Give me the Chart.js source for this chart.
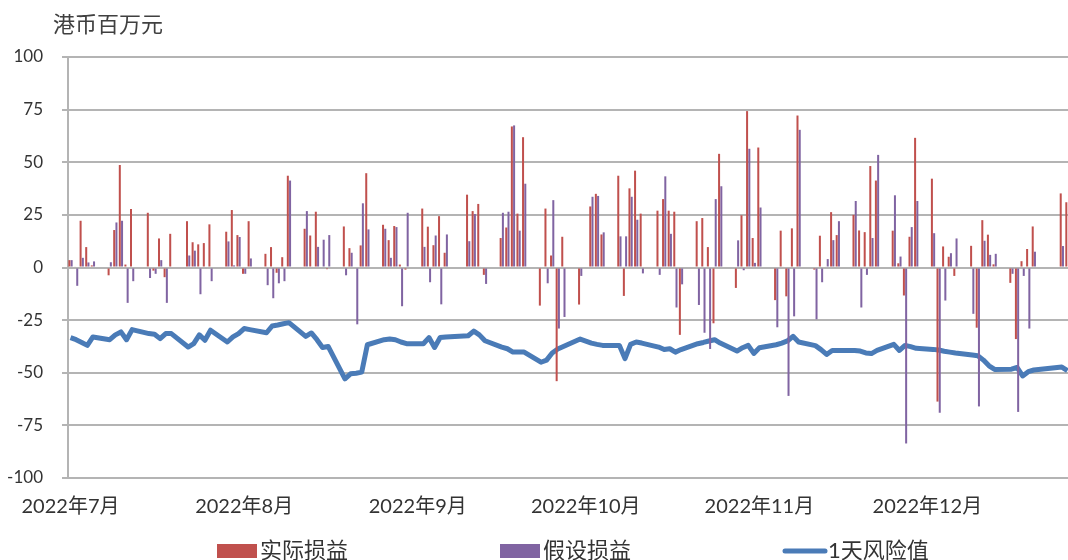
<!DOCTYPE html>
<html lang="zh-CN">
<head>
<meta charset="utf-8">
<title>实际损益、假设损益与1天风险值</title>
<script src="https://cdn.jsdelivr.net/npm/chart.js@4.4.0/dist/chart.umd.min.js"></script>
<style>
  html, body { margin: 0; padding: 0; background: #fff; }
  #wrap { width: 1068px; height: 560px; position: relative; }
</style>
</head>
<body>
<div id="wrap"><canvas id="chart"></canvas></div>
<script>
// ========== DATA ==========
// trading days, 2022 (MM-DD)
const tradeDates = [
  "07-04", "07-05", "07-06", "07-07", "07-08", "07-11", "07-12", "07-13", "07-14", "07-15",
  "07-18", "07-19", "07-20", "07-21", "07-22", "07-25", "07-26", "07-27", "07-28", "07-29",
  "08-01", "08-02", "08-03", "08-04", "08-05", "08-08", "08-09", "08-10", "08-11", "08-12",
  "08-15", "08-16", "08-17", "08-18", "08-19", "08-22", "08-23", "08-24", "08-25", "08-26",
  "08-29", "08-30", "08-31",
  "09-01", "09-02", "09-05", "09-06", "09-07", "09-08", "09-09", "09-13", "09-14", "09-15",
  "09-16", "09-19", "09-20", "09-21", "09-22", "09-23", "09-26", "09-27", "09-28", "09-29",
  "09-30",
  "10-03", "10-05", "10-06", "10-07", "10-10", "10-11", "10-12", "10-13", "10-14", "10-17",
  "10-18", "10-19", "10-20", "10-21", "10-24", "10-25", "10-26", "10-27", "10-28", "10-31",
  "11-01", "11-02", "11-03", "11-04", "11-07", "11-08", "11-09", "11-10", "11-11", "11-14",
  "11-15", "11-16", "11-17", "11-18", "11-21", "11-22", "11-23", "11-24", "11-25", "11-28",
  "11-29", "11-30",
  "12-01", "12-02", "12-05", "12-06", "12-07", "12-08", "12-09", "12-12", "12-13", "12-14",
  "12-15", "12-16", "12-19", "12-20", "12-21", "12-22", "12-23", "12-28", "12-29",
];

// 实际损益
const actualPL = [
  3.5, 0.5, 22.2, 9.7, 1, -3.7, 17.8, 48.7, 1.4, 27.8,
  26, -1.5, 13.8, -4.6, 16, 22, 12, 11, 11.6, 20.5,
  17, 27.3, 15.4, -3, 22, 6.5, 9.7, -2.5, 4.9, 43.6,
  18.4, 15.2, 26.5, 0, -0.8, 19.5, 9.2, 0, 10.5, 44.8,
  20.3, 13, 19.7,
  1.4, -1, 28, 19.4, 10.6, 24.4, 7, 34.6, 26.8, 30.2,
  -3.5, 14, 19, 67, 25.6, 61.9, -18.1, 28, 5.7, -54,
  14.6,
  -17.6, 29, 35, 15.7, 43.6, -13.5, 37.6, 46, 25.6, 27,
  32.5, 27, 26.5, -32, 22, 23.5, 9.7, -26.5, 54, -9.7,
  24.8, 74.3, 14, 57, -15.5, 17.5, -13.7, 18.6, 72.2, -1,
  15.1, 0.5, 26.3, 15.4, 25, 17.6, 16.8, 48.2, 41.3, 17.5,
  2, -13.3,
  14.6, 61.6, 42.2, -63.7, 10, 5.1, -4, 10.3, -28.6, 22.5,
  15.6, 1.5, -7.3, -34, 3, 8.8, 19.5, 35.2, 31,
];

// 假设损益
const hypoPL = [
  3.5, -8.7, 4.6, 2.4, 2.9, 2.5, 21.4, 22.2, -16.8, -6.5,
  -5, -3, 3.5, -16.8, 0, 5.7, 8, -12.7, -0.5, -6.5,
  12.4, 1, 14.5, -3, 4.3, -8.4, -14.6, -7.5, -6.5, 41.3,
  26.8, 0.5, 9.8, 13.2, 15.4, -3.7, 7, -27, 30.5, 18.1,
  18.4, 4.6, 19.2,
  -18.4, 26, 9.8, -7, 15.2, -17.5, 15.7, 12.5, 25.4, 0.5,
  -7.8, 26, 26.5, 67.5, 17.5, 39.8, 0, -7.5, 32, -29,
  -23.5,
  -4, 33.6, 34, 16.7, 14.8, 14.8, 33.6, 22.7, -2.8, -3.5,
  43.3, 16, -19, -8, -17.8, -31, -38.7, 32.5, 38.6, 12.9,
  -1.3, 56.4, 2.2, 28.5, -28.4, 0.5, -61, -23.2, 65.4, -24.6,
  -7, 4, 13, 22, 31.6, -19, -3.5, 14, 53.5, 34.3,
  5.2, -83.6,
  19.2, 31.6, 16.3, -69, -15.7, 6.8, 13.8, -22, -66, 12.7,
  6, 6.5, -3, -68.6, -4, -29, 7.5, 10.2, null,
];

// 1天风险值
const var1d = [
  -33.3, -34.3, -35.6, -37, -33, -34.3, -32, -30.6, -34.3, -29.5,
  -31.4, -31.7, -33.8, -31.4, -31.4, -37.8, -36.2, -32, -34.6, -29.8,
  -35.4, -33, -31.4, -29, -29.5, -31, -27.8, -27.3, -26.7, -26.2,
  -32.7, -31.1, -34.3, -38, -37.5, -52.9, -50.5, -50.2, -49.7, -36.7,
  -34.3, -34, -34.3,
  -35.4, -36.2, -36.2, -33.3, -38, -33.3, -33, -32.4, -30.2, -32,
  -34.8, -37.8, -38.6, -40.2, -40.2, -40.2, -45, -44, -40.6, -38.7,
  -37.5,
  -34, -35.9, -36.5, -37, -37, -43.3, -36.5, -35.4, -35.9, -37.8,
  -39, -38.6, -40.2, -39, -36.2, -35.6, -34.9, -34.3, -35.9, -39.7,
  -38.1, -37, -40.8, -38.1, -36.7, -35.9, -34.9, -32.7, -35.4, -37.1,
  -39, -41.3, -39.4, -39.4, -39.4, -39.7, -40.6, -40.9, -39.4, -36.5,
  -39.4, -37,
  -37.6, -38.4, -38.9, -39.2, -39.8, -40.2, -40.6, -41.6, -41.9, -44,
  -46.7, -48.4, -48.3, -47.5, -51.5, -49.5, -48.7, -47.3, -49,
];

// x axis labels
const tickDates = ["07-04", "08-04", "09-04", "10-04", "11-04", "12-04"];
const tickLabels = ["2022年7月", "2022年8月", "2022年9月", "2022年10月", "2022年11月", "2022年12月"];

// ========== HELPERS ==========
const BASE_DAY = Date.UTC(2022, 6, 4);
function dayOffset(md) {
  const [m, d] = md.split("-").map(Number);
  return (Date.UTC(2022, m - 1, d) - BASE_DAY) / 86400000;
}

const xDays = tradeDates.map(dayOffset);
const tickDays = tickDates.map(dayOffset);
const toPoints = (values) => values.map((y, i) => ({ x: xDays[i], y: y }));

const FONT = 'Lato, "Noto Sans CJK SC", sans-serif';
const GRID = "#b4b4b4";
const TEXT = "#333333";

// ========== PLUGINS ==========
// unit caption above the axis
const unitTitle = {
  id: "unitTitle",
  afterDraw(chart) {
    const ctx = chart.ctx;
    ctx.save();
    ctx.font = "22px " + FONT;
    ctx.fillStyle = "#404040";
    ctx.textBaseline = "middle";
    ctx.fillText("港币百万元", 53, 25);
    ctx.restore();
  },
};

// legend in the Excel layout (wide spacing)
const legendSlots = [217, 500, 783];
const wideLegend = {
  id: "wideLegend",
  afterDraw(chart) {
    const ctx = chart.ctx;
    const y = 551;
    ctx.save();
    ctx.font = "22px " + FONT;
    ctx.textBaseline = "middle";
    chart.data.datasets.forEach((ds, i) => {
      const x = legendSlots[i];
      let textX;
      if (ds.type === "line") {
        ctx.strokeStyle = ds.borderColor;
        ctx.lineWidth = 5;
        ctx.lineCap = "round";
        ctx.beginPath();
        ctx.moveTo(x + 2, y);
        ctx.lineTo(x + 42, y);
        ctx.stroke();
        textX = x + 45;
      } else {
        ctx.fillStyle = ds.backgroundColor;
        ctx.fillRect(x, y - 7, 40, 14);
        textX = x + 43;
      }
      ctx.fillStyle = TEXT;
      ctx.fillText(ds.label, textX, y);
    });
    ctx.restore();
  },
};

// ========== CHART ==========
new Chart(document.getElementById("chart").getContext("2d"), {
  type: "bar",
  data: {
    datasets: [
      {
        type: "bar",
        label: "实际损益",
        data: toPoints(actualPL),
        backgroundColor: "#c0504d",
        categoryPercentage: 0.8,
        barPercentage: 0.9,
        order: 1,
      },
      {
        type: "bar",
        label: "假设损益",
        data: toPoints(hypoPL),
        backgroundColor: "#8064a2",
        categoryPercentage: 0.8,
        barPercentage: 0.9,
        order: 1,
      },
      {
        type: "line",
        label: "1天风险值",
        data: toPoints(var1d),
        borderColor: "#4a7bb7",
        backgroundColor: "#4a7bb7",
        borderWidth: 5,
        borderJoinStyle: "round",
        pointRadius: 0,
        tension: 0,
        order: 2,
      },
    ],
  },
  options: {
    responsive: true,
    maintainAspectRatio: false,
    animation: false,
    devicePixelRatio: 1,
    layout: { padding: { top: 57, right: 0, bottom: 0, left: 0 } },
    plugins: {
      legend: { display: false },
      title: { display: false },
      tooltip: { enabled: false },
    },
    scales: {
      x: {
        type: "linear",
        min: -0.45,
        max: 178.1,
        offset: false,
        grid: { display: false, drawTicks: false },
        border: { display: false },
        afterBuildTicks: (scale) => {
          scale.ticks = tickDays.map((v) => ({ value: v }));
        },
        afterFit: (scale) => {
          scale.height = 82;
        },
        ticks: {
          autoSkip: false,
          maxRotation: 0,
          padding: 17,
          color: TEXT,
          font: { family: FONT, size: 20 },
          callback: (value, index) => tickLabels[index],
        },
      },
      y: {
        min: -100,
        max: 100,
        afterFit: (scale) => {
          scale.width = 68;
        },
        ticks: {
          stepSize: 25,
          padding: 19,
          color: TEXT,
          font: { family: FONT, size: 17 },
        },
        grid: { color: GRID, lineWidth: 2, tickLength: 6 },
        border: { color: GRID, width: 2 },
      },
    },
  },
  plugins: [unitTitle, wideLegend],
});
</script>
</body>
</html>
